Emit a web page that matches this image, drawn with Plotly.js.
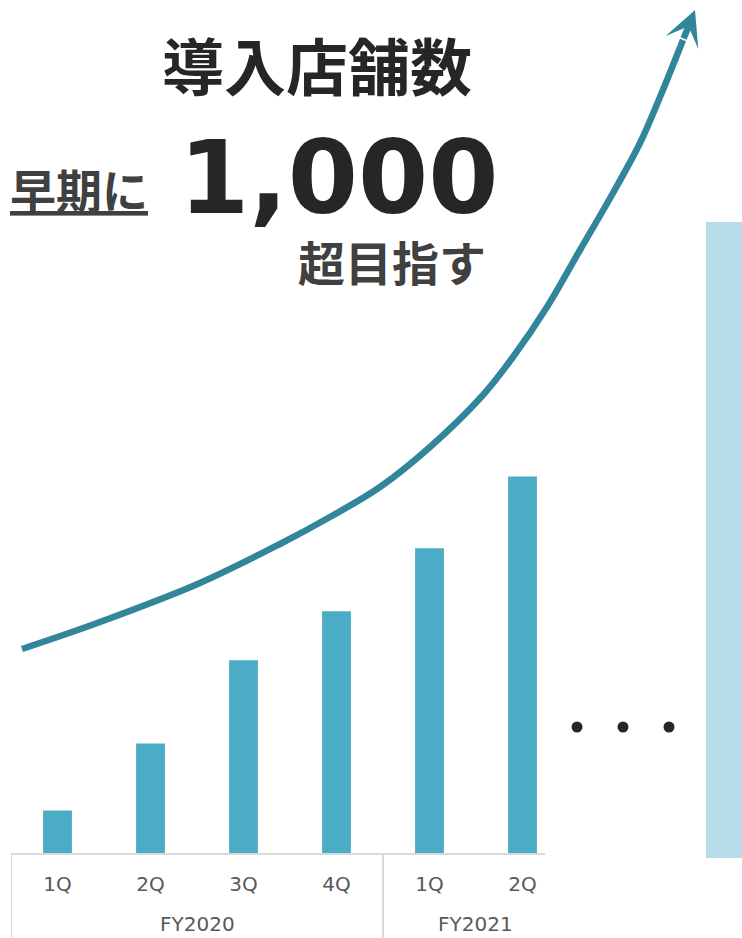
<!DOCTYPE html>
<html>
<head>
<meta charset="utf-8">
<script src="https://cdn.plot.ly/plotly-3.0.1.min.js"></script>
<style>html,body{margin:0;padding:0;background:#fff;}#chart{width:742px;height:938px;}</style>
</head>
<body>
<div id="chart"></div>
<script>
// ---- data ----
const fiscalYears = ["FY2020","FY2020","FY2020","FY2020","FY2021","FY2021"];
const quarters    = ["1Q","2Q","3Q","4Q","1Q","2Q"];
const storeCounts = [67, 172, 303, 380, 479, 592];
const targetLabel = ["目標"];
const targetValue = [1000];

// decorative growth curve (overlay units: 0..742 across, 0..938 down)
const curveX = [22, 100, 200, 280, 330, 380, 430, 483, 513, 547, 580, 613, 640, 660, 683];
const curveY = [649, 622, 583, 544, 517, 487, 447, 395, 357, 307, 250, 193, 143, 97, 40];
const arrowTip = [695, 10];
// ellipsis dots
const dotsX = [577, 623, 669];
const dotsY = [727, 727, 727];

const barColor = "#4BACC6";
const targetColor = "#B7DEE8";
const curveColor = "#31869B";
const gridGrey = "#D9D9D9";
const labelGrey = "#595959";

// positions of each quarter on the category scale
const idx = quarters.map((q, i) => i);
// fiscal-year groups: centre and start
const groups = [];
fiscalYears.forEach((fy, i) => {
  let g = groups.find(o => o.name === fy);
  if (!g) { g = {name: fy, first: i, last: i}; groups.push(g); }
  g.last = i;
});
const groupCentres = groups.map(g => (g.first + g.last) / 2);
const groupNames = groups.map(g => g.name);
const dividerPos = groups.map(g => g.first - 0.5);

const traces = [
  {
    type: "bar",
    x: idx,
    y: storeCounts,
    marker: {color: barColor},
    width: 0.31,
    xaxis: "x", yaxis: "y",
    hoverinfo: "skip"
  },
  {
    type: "bar",
    x: targetLabel,
    y: targetValue,
    marker: {color: targetColor},
    width: 1,
    xaxis: "x2", yaxis: "y2",
    hoverinfo: "skip"
  },
  {
    type: "scatter",
    mode: "lines",
    x: curveX,
    y: curveY,
    line: {color: curveColor, width: 6.5, shape: "spline", smoothing: 1},
    xaxis: "x3", yaxis: "y3",
    hoverinfo: "skip"
  },
  {
    type: "scatter",
    mode: "markers",
    x: dotsX,
    y: dotsY,
    marker: {color: "#262626", size: 11},
    xaxis: "x3", yaxis: "y3",
    hoverinfo: "skip"
  }
];

const shapes = dividerPos.map(p => ({
  type: "line", xref: "x", yref: "paper",
  x0: p, x1: p, y0: 0, y1: 85/938,
  line: {color: gridGrey, width: 2}
}));

const fyAnnotations = groupNames.map((name, i) => ({
  text: name, xref: "x", yref: "paper",
  x: groupCentres[i], y: 1 - 924/938,
  xanchor: "center", yanchor: "middle", showarrow: false,
  font: {family: "DejaVu Sans", size: 20, color: labelGrey}
}));

const layout = {
  width: 742, height: 938,
  margin: {l: 0, r: 0, t: 0, b: 0},
  paper_bgcolor: "#fff", plot_bgcolor: "rgba(0,0,0,0)",
  showlegend: false,
  xaxis: {
    domain: [11/742, 545/742],
    range: [-0.5, 5.242],
    tickmode: "array", tickvals: idx, ticktext: quarters,
    showline: true, linecolor: gridGrey, linewidth: 2,
    ticks: "outside", ticklen: 12, tickcolor: "rgba(0,0,0,0)",
    tickfont: {family: "DejaVu Sans", size: 20, color: labelGrey},
    showgrid: false, zeroline: false, fixedrange: true
  },
  yaxis: {
    domain: [85/938, 1],
    range: [0, 853/0.636],
    visible: false, showgrid: false, zeroline: false, fixedrange: true
  },
  xaxis2: {
    domain: [706/742, 1],
    range: [-0.5, 0.5],
    anchor: "y2",
    visible: false, fixedrange: true
  },
  yaxis2: {
    domain: [80/938, 1],
    range: [0, 858/0.636],
    anchor: "x2",
    visible: false, fixedrange: true
  },
  xaxis3: {
    domain: [0, 1], range: [0, 742], anchor: "y3",
    visible: false, fixedrange: true
  },
  yaxis3: {
    domain: [0, 1], range: [938, 0], anchor: "x3",
    visible: false, fixedrange: true
  },
  shapes: shapes,
  annotations: fyAnnotations.concat([
    {
      text: "", xref: "x3", yref: "y3", axref: "x3", ayref: "y3",
      x: arrowTip[0], y: arrowTip[1],
      ax: curveX[curveX.length - 1], ay: curveY[curveY.length - 1],
      showarrow: true, arrowhead: 3, arrowsize: 0.9, arrowwidth: 6.5,
      arrowcolor: curveColor
    },
    {
      text: "<b>導入店舗数</b>", xref: "paper", yref: "paper",
      x: 317/742, y: 1 - 64/938, xanchor: "center", yanchor: "middle",
      showarrow: false,
      font: {family: "Noto Sans CJK JP", size: 62, color: "#262626"}
    },
    {
      text: "<b><u>早期に</u></b>", xref: "paper", yref: "paper",
      x: 79/742, y: 1 - 188/938, xanchor: "center", yanchor: "middle",
      showarrow: false,
      font: {family: "Noto Sans CJK JP", size: 46, color: "#404040"}
    },
    {
      text: "<b>1,000</b>", xref: "paper", yref: "paper",
      x: 338/742, y: 1 - 178/938, xanchor: "center", yanchor: "middle",
      showarrow: false,
      font: {family: "DejaVu Sans", size: 101, color: "#262626"}
    },
    {
      text: "<b>超目指す</b>", xref: "paper", yref: "paper",
      x: 392/742, y: 1 - 261/938, xanchor: "center", yanchor: "middle",
      showarrow: false,
      font: {family: "Noto Sans CJK JP", size: 47, color: "#404040"}
    }
  ])
};

Plotly.newPlot("chart", traces, layout, {displayModeBar: false, staticPlot: true});
</script>
</body>
</html>
